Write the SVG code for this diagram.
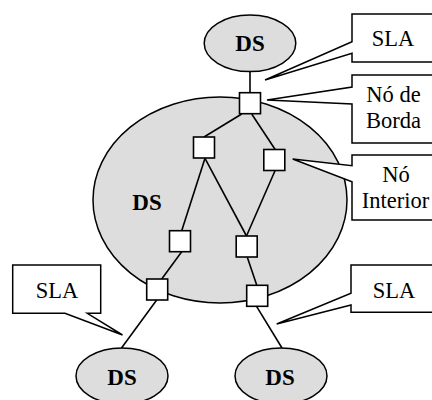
<svg xmlns="http://www.w3.org/2000/svg" width="432" height="400" viewBox="0 0 432 400">
<style>
.ds{fill:#dddddd;stroke:#000;stroke-width:1.5}
.nd{fill:#fff;stroke:#000;stroke-width:1.6}
.co{fill:#fff;stroke:#000;stroke-width:1.5;stroke-linejoin:miter}
.ln{stroke:#000;stroke-width:1.6;fill:none}
text{font-family:'Liberation Serif','Times New Roman',serif;text-anchor:middle}
.dst{font-weight:bold;font-size:23px}
.lbl{font-size:22.5px}
</style>
<rect width="432" height="400" fill="#fff"/>
<g id="ds-center">
<ellipse class="ds" cx="220" cy="200" rx="127" ry="103"/>
<text class="dst" x="147" y="210">DS</text>
</g>
<g id="ds-top">
<ellipse class="ds" cx="250" cy="43.3" rx="45.8" ry="28.3"/>
<text class="dst" x="250" y="51">DS</text>
</g>
<g id="ds-bottom-left">
<ellipse class="ds" cx="122" cy="376" rx="46" ry="28"/>
<text class="dst" x="122" y="385">DS</text>
</g>
<g id="ds-bottom-right">
<ellipse class="ds" cx="281" cy="376" rx="46" ry="28"/>
<text class="dst" x="280" y="385">DS</text>
</g>
<g id="connectors">
<line class="ln" x1="250" y1="71.7" x2="250" y2="93"/>
<line class="ln" x1="241.7" y1="114" x2="204" y2="137"/>
<line class="ln" x1="251.7" y1="114" x2="275" y2="149.3"/>
<line class="ln" x1="205" y1="158.3" x2="181.7" y2="230.7"/>
<line class="ln" x1="205" y1="158.3" x2="246.5" y2="236"/>
<line class="ln" x1="275" y1="170.7" x2="246.5" y2="236"/>
<line class="ln" x1="181.7" y1="251.7" x2="161.7" y2="279"/>
<line class="ln" x1="247.3" y1="257.3" x2="256.7" y2="285"/>
<line class="ln" x1="156.7" y1="300" x2="121.5" y2="348"/>
<line class="ln" x1="256.7" y1="306.7" x2="282" y2="348"/>
</g>
<g id="node-top"><rect class="nd" x="239.5" y="92.7" width="21" height="21"/></g>
<g id="node-left-upper"><rect class="nd" x="193.5" y="137" width="21" height="21"/></g>
<g id="node-right-upper"><rect class="nd" x="263.8" y="149.5" width="21" height="21"/></g>
<g id="node-left-middle"><rect class="nd" x="169.5" y="230.7" width="21" height="21"/></g>
<g id="node-right-middle"><rect class="nd" x="236.2" y="236" width="21" height="21"/></g>
<g id="node-left-bottom"><rect class="nd" x="146.7" y="279" width="21" height="21"/></g>
<g id="node-right-bottom"><rect class="nd" x="246.7" y="285.3" width="21" height="21"/></g>
<g id="callout-sla-top">
<path class="co" d="M352,14 H440 V62 H352 V53.3 L265,80 L352,41.7 Z"/>
<text class="lbl" x="393" y="45.7">SLA</text>
</g>
<g id="callout-no-borda">
<path class="co" d="M352,75 H440 V143 H352 V104 L267,100 L352,87 Z"/>
<text class="lbl" x="393.5" y="102">Nó de</text>
<text class="lbl" x="393.5" y="128">Borda</text>
</g>
<g id="callout-no-interior">
<path class="co" d="M352,155 H440 V220 H352 V181.7 L292.7,159 L352,165.7 Z"/>
<text class="lbl" x="396" y="181.7">Nó</text>
<text class="lbl" x="395.5" y="208.3">Interior</text>
</g>
<g id="callout-sla-left">
<path class="co" d="M12.7,265 H100.7 V313.3 H87.3 L122.5,335 L65,313.3 H12.7 Z"/>
<text class="lbl" x="57" y="298.3">SLA</text>
</g>
<g id="callout-sla-right">
<path class="co" d="M351,265 H440 V312.3 H351 V305 L276.7,324 L351,293.3 Z"/>
<text class="lbl" x="394" y="298">SLA</text>
</g>
</svg>
